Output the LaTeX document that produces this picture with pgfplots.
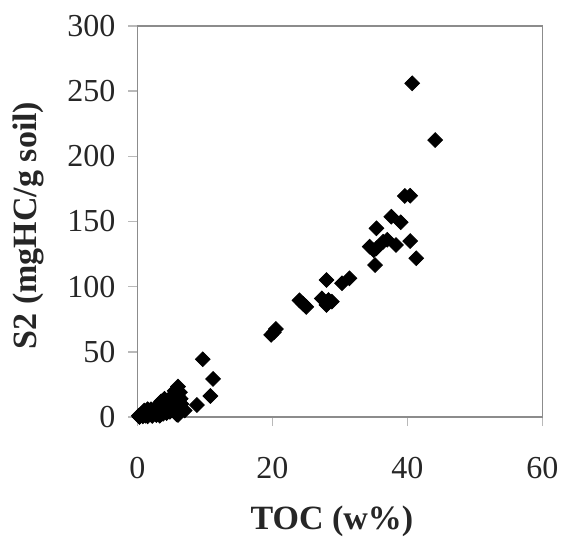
\documentclass[border=0pt]{standalone}
\usepackage{pgfplots}
\pgfplotsset{compat=1.18}
\usepackage{fontspec}
\setmainfont{Liberation Serif}
\definecolor{framegray}{RGB}{140,140,140}
\definecolor{tickgray}{RGB}{185,185,185}
\begin{document}
\begin{tikzpicture}
\begin{axis}[
  scale only axis,
  width=202.5pt, height=195.5pt,
  at={(0,0)}, anchor=origin,
  xmin=0, xmax=60, ymin=0, ymax=300,
  xtick={0,20,40,60}, ytick={0,50,100,150,200,250,300},
  axis line style={framegray, line width=0.9pt},
  tick style={tickgray, line width=0.8pt},
  tick align=outside, major tick length=4.5pt,
  xtick pos=bottom, ytick pos=left,
  /pgf/number format/assume math mode=true,
  ticklabel style={font=\fontsize{16}{19}\selectfont, text=black!85},
  xticklabel style={yshift=-12pt},
  yticklabel style={xshift=-3pt},
  xlabel={\textbf{TOC (w\%)}},
  ylabel={\textbf{S2 (mgHC/g soil)}},
  label style={font=\fontsize{17}{20}\selectfont, text=black!85},
  xlabel style={at={(axis description cs:0.48,-0.268)}, anchor=center},
  ylabel style={at={(axis description cs:-0.27,0.49)}, anchor=center, rotate=0},
  clip=false,
]
\addplot[only marks, mark=square*, mark size=2.6pt, mark options={rotate=45, fill=black, draw=black}] coordinates {
(40.7,256) (44.1,212.5) (39.6,169.6) (40.4,169.8)
(37.6,153.7) (39.0,149.4) (35.4,144.8) (34.4,130.7) (35.4,129.4)
(36.4,134.5) (37.0,136) (38.3,132) (40.4,135) (41.3,121.8)
(35.2,116.6) (35.0,128)
(31.4,106.4) (30.3,102.6) (28.0,105.1) (27.3,91) (28.3,89.8)
(28.0,86) (28.8,88.5) (24.0,89.5) (25.0,84.5) (24.5,87)
(20.5,67.5) (19.8,63) (20.2,65)
(9.66,44.3) (11.2,29.2) (10.8,16.1) (8.8,9.2)
(6.0,23.3) (5.5,20) (6.0,16) (6.2,5) (5.8,12) (5.0,10) (4.5,8)
(4.0,14) (3.5,12) (3.0,9) (3.5,6) (2.5,5) (2.0,6) (1.5,6)
(1.0,5) (1.0,3) (0.5,2) (0.2,1) (0.3,0) (0.3,0.5) (1.2,1)
(2.0,2) (2.5,3) (3.0,3) (4.0,6) (5.0,14) (5.5,18) (6.5,10)
(6.0,8) (4.8,4) (0.8,0.5) (1.6,2.5) (2.8,1.5) (3.8,2.5)
(4.2,11) (6.3,19) (5.8,2) (6.4,14) (5.2,7) (7.0,5) (6.0,1.5)
(1.5,0.5) (2.2,0.8) (3.3,1) (4.3,3) (5.5,5)
};
\end{axis}
\pgfresetboundingbox
\path (-68.75pt,-60pt) rectangle (212.75pt,208.5pt);
\end{tikzpicture}
\end{document}
